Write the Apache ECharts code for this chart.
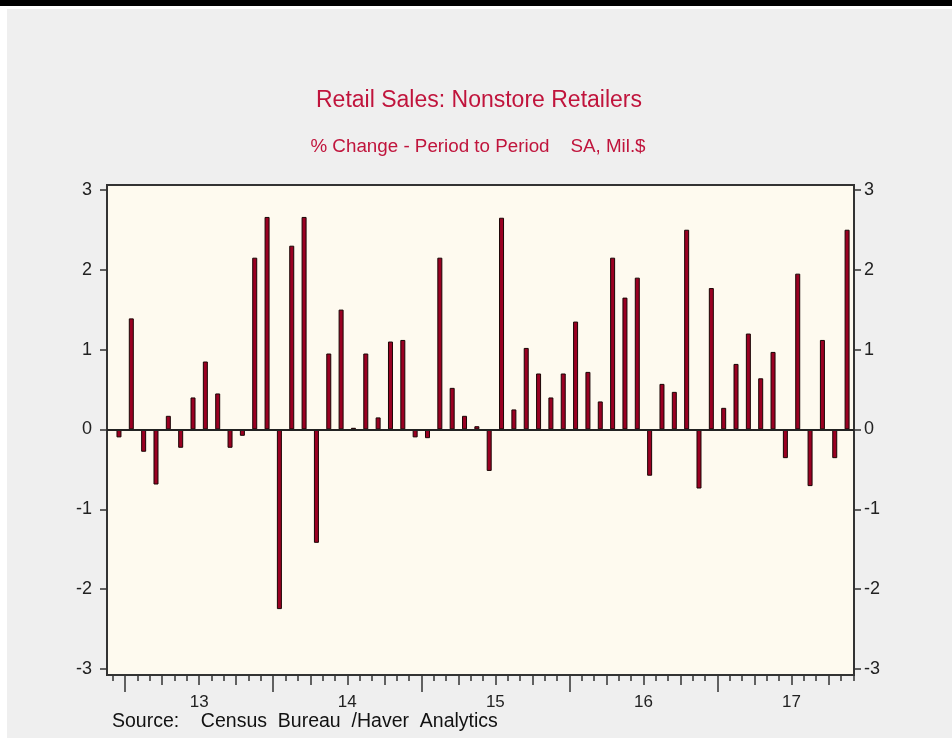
<!DOCTYPE html>
<html>
<head>
<meta charset="utf-8">
<script src="https://cdn.jsdelivr.net/npm/echarts@6/dist/echarts.min.js"></script>
<style>
html,body{margin:0;padding:0;background:#efefef;}
#chart{width:952px;height:738px;}
</style>
</head>
<body>
<div id="chart"></div>
<script>
// ---- data ----
var months = [
 '2012-12',
 '2013-01','2013-02','2013-03','2013-04','2013-05','2013-06','2013-07','2013-08','2013-09','2013-10','2013-11','2013-12',
 '2014-01','2014-02','2014-03','2014-04','2014-05','2014-06','2014-07','2014-08','2014-09','2014-10','2014-11','2014-12',
 '2015-01','2015-02','2015-03','2015-04','2015-05','2015-06','2015-07','2015-08','2015-09','2015-10','2015-11','2015-12',
 '2016-01','2016-02','2016-03','2016-04','2016-05','2016-06','2016-07','2016-08','2016-09','2016-10','2016-11','2016-12',
 '2017-01','2017-02','2017-03','2017-04','2017-05','2017-06','2017-07','2017-08','2017-09','2017-10','2017-11'
];
var pctChange = [
 -0.10,
 1.39,-0.28,-0.69,0.17,-0.23,0.40,0.85,0.45,-0.23,-0.08,2.15,2.66,
 -2.25,2.30,2.66,-1.42,0.95,1.50,0.02,0.95,0.15,1.10,1.12,-0.10,
 -0.11,2.15,0.52,0.17,0.04,-0.52,2.65,0.25,1.02,0.70,0.40,0.70,
 1.35,0.72,0.35,2.15,1.65,1.90,-0.58,0.57,0.47,2.50,-0.74,1.77,
 0.27,0.82,1.20,0.64,0.97,-0.36,1.95,-0.71,1.12,-0.36,2.50
];
var yearLabels = ['13','14','15','16','17'];
var yTicks = [-3,-2,-1,0,1,2,3];
var titleText = 'Retail Sales: Nonstore Retailers';
var subtitleText = '% Change - Period to Period    SA, Mil.$';
var sourceText = 'Source:    Census  Bureau  /Haver  Analytics';

// ---- derived axis positions (month boundaries at integer positions) ----
var monthTicks = [], quarterTicks = [], yearTicks = [], yearLabelPos = [];
for (var i = 0; i <= months.length; i++) monthTicks.push(i);
months.forEach(function (m, i) {
  var mm = +m.slice(5, 7);
  if (mm === 1) yearTicks.push(i);
  else if (mm === 4 || mm === 7 || mm === 10) quarterTicks.push(i);
  if (mm === 7) yearLabelPos.push(i);
});
var barData = pctChange.map(function (v, i) { return [i + 0.5, v]; });

var XMIN = -0.47, XMAX = 60.06;
var tickColor = '#333';
var labelFont = 'Liberation Sans, Arial, sans-serif';

function xAx(ticks, len, showLabel) {
  return {
    type: 'value', min: XMIN, max: XMAX, gridIndex: 0, position: 'bottom',
    axisLine: { show: false, onZero: false },
    splitLine: { show: false },
    axisTick: { show: true, inside: false, length: len, customValues: ticks,
      lineStyle: { color: tickColor, width: 1.5 } },
    axisLabel: showLabel ? {
      show: true, customValues: yearLabelPos, margin: 19, color: '#222',
      fontSize: 17, fontFamily: labelFont,
      formatter: function (v) { return yearLabels[yearLabelPos.indexOf(Math.round(v))] || ''; }
    } : { show: false }
  };
}
function yAx(pos, margin) {
  return {
    type: 'value', min: -3.075, max: 3.06, position: pos,
    axisLine: { show: false, onZero: false },
    splitLine: { show: false },
    axisTick: { show: true, inside: false, length: 7, customValues: yTicks,
      lineStyle: { color: tickColor, width: 1.5 } },
    axisLabel: { show: true, customValues: yTicks, margin: margin, color: '#222',
      fontSize: 18, fontFamily: labelFont }
  };
}

var chart = echarts.init(document.getElementById('chart'));
chart.setOption({
  backgroundColor: '#efefef',
  animation: false,
  title: [
    { text: titleText, left: 474, top: 84, textAlign: 'center',
      textStyle: { color: '#c0143c', fontSize: 23, fontWeight: 'normal', fontFamily: labelFont } },
    { text: subtitleText, left: 473, top: 132, textAlign: 'center',
      textStyle: { color: '#c0143c', fontSize: 18.8, fontWeight: 'normal', fontFamily: labelFont } }
  ],
  graphic: [
    { type: 'rect', shape: { x: 0, y: 0, width: 952, height: 6 }, style: { fill: '#000' } },
    { type: 'rect', shape: { x: 0, y: 6, width: 952, height: 3 }, style: { fill: '#fff' } },
    { type: 'rect', shape: { x: 0, y: 6, width: 7, height: 732 }, style: { fill: '#fff' } },
    { type: 'text', left: 112, top: 712,
      style: { text: sourceText, fill: '#111', fontSize: 19.5, fontFamily: labelFont } }
  ],
  grid: { left: 107, top: 185, width: 747, height: 490, show: true,
    backgroundColor: '#fefaef', borderColor: '#333', borderWidth: 2 },
  xAxis: [ xAx(monthTicks, 6, true), xAx(quarterTicks, 10, false), xAx(yearTicks, 17, false) ],
  yAxis: [ yAx('left', 15), yAx('right', 10) ],
  series: [{
    type: 'bar', xAxisIndex: 0, yAxisIndex: 0, data: barData, barWidth: 5,
    itemStyle: { color: '#9a0022', borderColor: '#1a0505', borderWidth: 1 },
    markLine: { silent: true, symbol: 'none', label: { show: false },
      lineStyle: { color: '#222', width: 2, type: 'solid' },
      data: [{ yAxis: 0 }] }
  }]
});
</script>
</body>
</html>
